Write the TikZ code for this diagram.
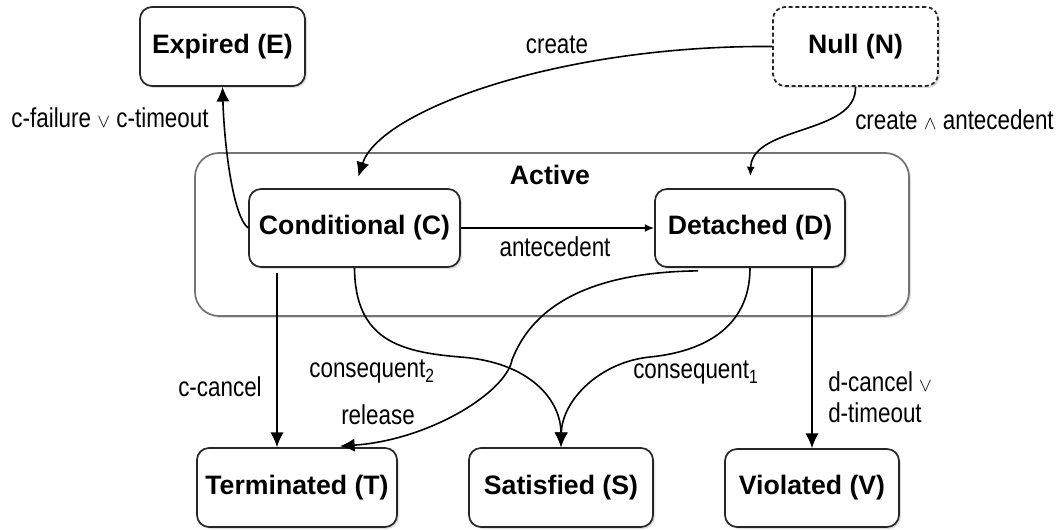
\documentclass[tikz,border=0pt]{standalone}
\usepackage{fontspec}
\setmainfont{Liberation Sans}
\newfontfamily\narrowfont[FakeStretch=0.82]{Liberation Sans}
\usetikzlibrary{arrows.meta,calc,shadows}
\begin{document}
\begin{tikzpicture}[x=0.75pt,y=-0.75pt,
  shd/.style={drop shadow={shadow xshift=1.5pt,shadow yshift=-1.5pt,opacity=0.25}},
  state/.style={draw=black!85, line width=1.3pt, rounded corners=9pt, fill=white,
    font=\bfseries\fontsize{20}{24}\selectfont, inner sep=0pt, shd},
  lbl/.style={font=\narrowfont\fontsize{20.5}{24}\selectfont, inner sep=0pt},
  arr/.style={line width=1.2pt, -{Latex[length=11pt,width=10pt]}},
  sarr/.style={line width=1.2pt, -{Latex[length=7pt,width=6pt]}}]
\useasboundingbox (0,0) rectangle (1056,530);

% Active container
\node[draw=black!55, line width=1.3pt, rounded corners=18pt, fill=white,
  minimum width=535.5pt, minimum height=122.25pt, shd] (act) at (552,234.5) {};
\node[font=\bfseries\fontsize{20}{24}\selectfont, inner sep=0pt] (lact) at (550,175) {Active};

% States
\node[state, minimum width=123.75pt, minimum height=59.25pt] (E) at (222.5,46.5) {Expired (E)};
\node[state, dash pattern=on 3pt off 2pt, minimum width=123.75pt, minimum height=59.25pt] (N) at (855.5,46.5) {Null (N)};
\node[state, minimum width=158.25pt, minimum height=58.5pt] (C) at (354.5,228) {Conditional (C)};
\node[state, minimum width=142.5pt, minimum height=58.5pt] (D) at (750,228) {Detached (D)};
\node[state, minimum width=150pt, minimum height=59.25pt] (T) at (297,487.5) {Terminated (T)};
\node[state, minimum width=138pt, minimum height=59.25pt] (S) at (561,487.5) {Satisfied (S)};
\node[state, minimum width=130.5pt, minimum height=58.5pt] (V) at (812,488) {Violated (V)};

% Connectors
\draw[arr] (C.west) .. controls (232,215) and (224,140) .. (E.south);
\draw[arr, shorten >=9pt] (N.west) .. controls (560,45) and (380,110) .. (C.north);
\draw[sarr, shorten >=9pt] (N.south) .. controls (857,135) and (752,125) .. (D.north);
\draw[sarr] (C.east) -- (D.west);
\draw[arr] ($(C.south)+(-77.5,5)$) -- ($(T.north)+(-20,0)$);
\draw[arr] (C.south) .. controls (355,340) and (400,352) .. (460,357)
  .. controls (530,362) and (561,400) .. (S.north);
\draw[arr] (D.south) .. controls (750,330) and (700,352) .. (650,357)
  .. controls (600,362) and (562,400) .. (S.north);
\draw[arr] ($(D.south)+(-52,3)$) .. controls (600,272) and (535,300) .. (512,360)
  .. controls (506,392) and (430,440) .. ($(T.north)+(43,-1)$);
\draw[arr] ($(D.south)+(62,0)$) -- (V.north);

% Labels
\node[lbl] (lcreate) at (557,45) {create};
\node[lbl, anchor=west] (lca) at (855,120) {create $\scriptstyle\wedge$ antecedent};
\node[lbl] (lcf) at (110,118) {c-failure $\scriptstyle\vee$ c-timeout};
\node[lbl] (lant) at (555,247) {antecedent};
\node[lbl] (lcc) at (220,387) {c-cancel};
\node[lbl] (lc2) at (372,372) {consequent\textsubscript{2}};
\node[lbl] (lrel) at (378,415) {release};
\node[lbl, anchor=west] (lc1) at (633,373) {consequent\textsubscript{1}};
\node[lbl, anchor=west] (ldc1) at (828,382) {d-cancel $\scriptstyle\vee$};
\node[lbl, anchor=west] (ldc2) at (828,413) {d-timeout};
\end{tikzpicture}
\end{document}
